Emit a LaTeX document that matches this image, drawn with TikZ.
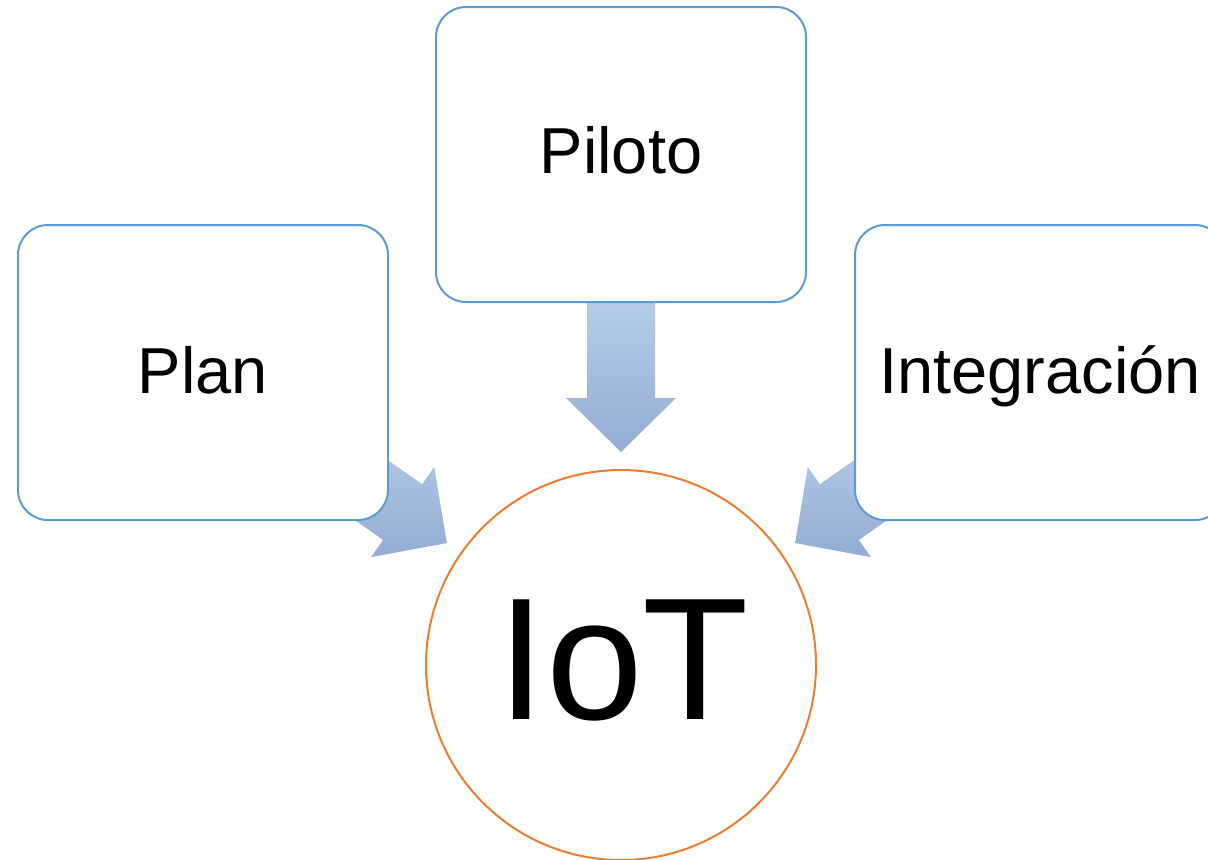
\documentclass[tikz,border=0pt]{standalone}
\usepackage{fontspec}
\setmainfont{Liberation Sans}
\usepackage{tikz}
\usetikzlibrary{positioning}
\usepackage{xcolor}
\definecolor{boxline}{RGB}{91,155,213}
\definecolor{ringline}{RGB}{237,125,49}
\definecolor{arrowtop}{RGB}{182,203,233}
\definecolor{arrowbot}{RGB}{147,172,211}

\begin{document}
\begin{tikzpicture}[x=0.5pt, y=-0.5pt,
    stagebox/.style={draw=boxline, line width=1pt, fill=white, rounded corners=15pt,
      minimum width=185pt, minimum height=147.5pt, inner sep=0pt},
    stagetext/.style={anchor=base, inner sep=0pt, font=\fontsize{32.5}{39}\selectfont},
    core/.style={circle, draw=ringline, line width=1pt, fill=white,
      minimum size=195pt, inner sep=0pt},
    blockarrow/.pic={
      \shade[top color=arrowtop, bottom color=arrowbot]
        (0,-34) -- (96,-34) -- (96,-55) -- (150,0) -- (96,55) -- (96,34) -- (0,34) -- cycle;
    }]
    \clip (0,0) rectangle (1208,859);
    \fill[white] (0,0) rectangle (1208,859);

    \coordinate (plantail) at (324,457);
    \coordinate (pilototail) at (621,302);
    \coordinate (integtail) at (918,457);

    \pic[rotate=-35] at (plantail) {blockarrow};
    \pic[rotate=-90] at (pilototail) {blockarrow};
    \pic[rotate=-145] at (integtail) {blockarrow};

    \node[stagebox] (plan) at (203,372.5) {};
    \node[stagebox] (piloto) at (621,154.5) {};
    \node[stagebox] (integ) at (1040,372.5) {};
    \node[stagetext] (plantext) at (203,393) {Plan};
    \node[stagetext] (pilototext) at (621,173) {Piloto};
    \node[stagetext] (integtext) at (1040,393) {Integración};

    \node[core] (iot) at (621,665) {};
    \node[anchor=base, inner sep=0pt, font=\fontsize{87}{96}\selectfont] (iotlabel)
      at (623.5,719) {IoT};
\end{tikzpicture}
\end{document}
